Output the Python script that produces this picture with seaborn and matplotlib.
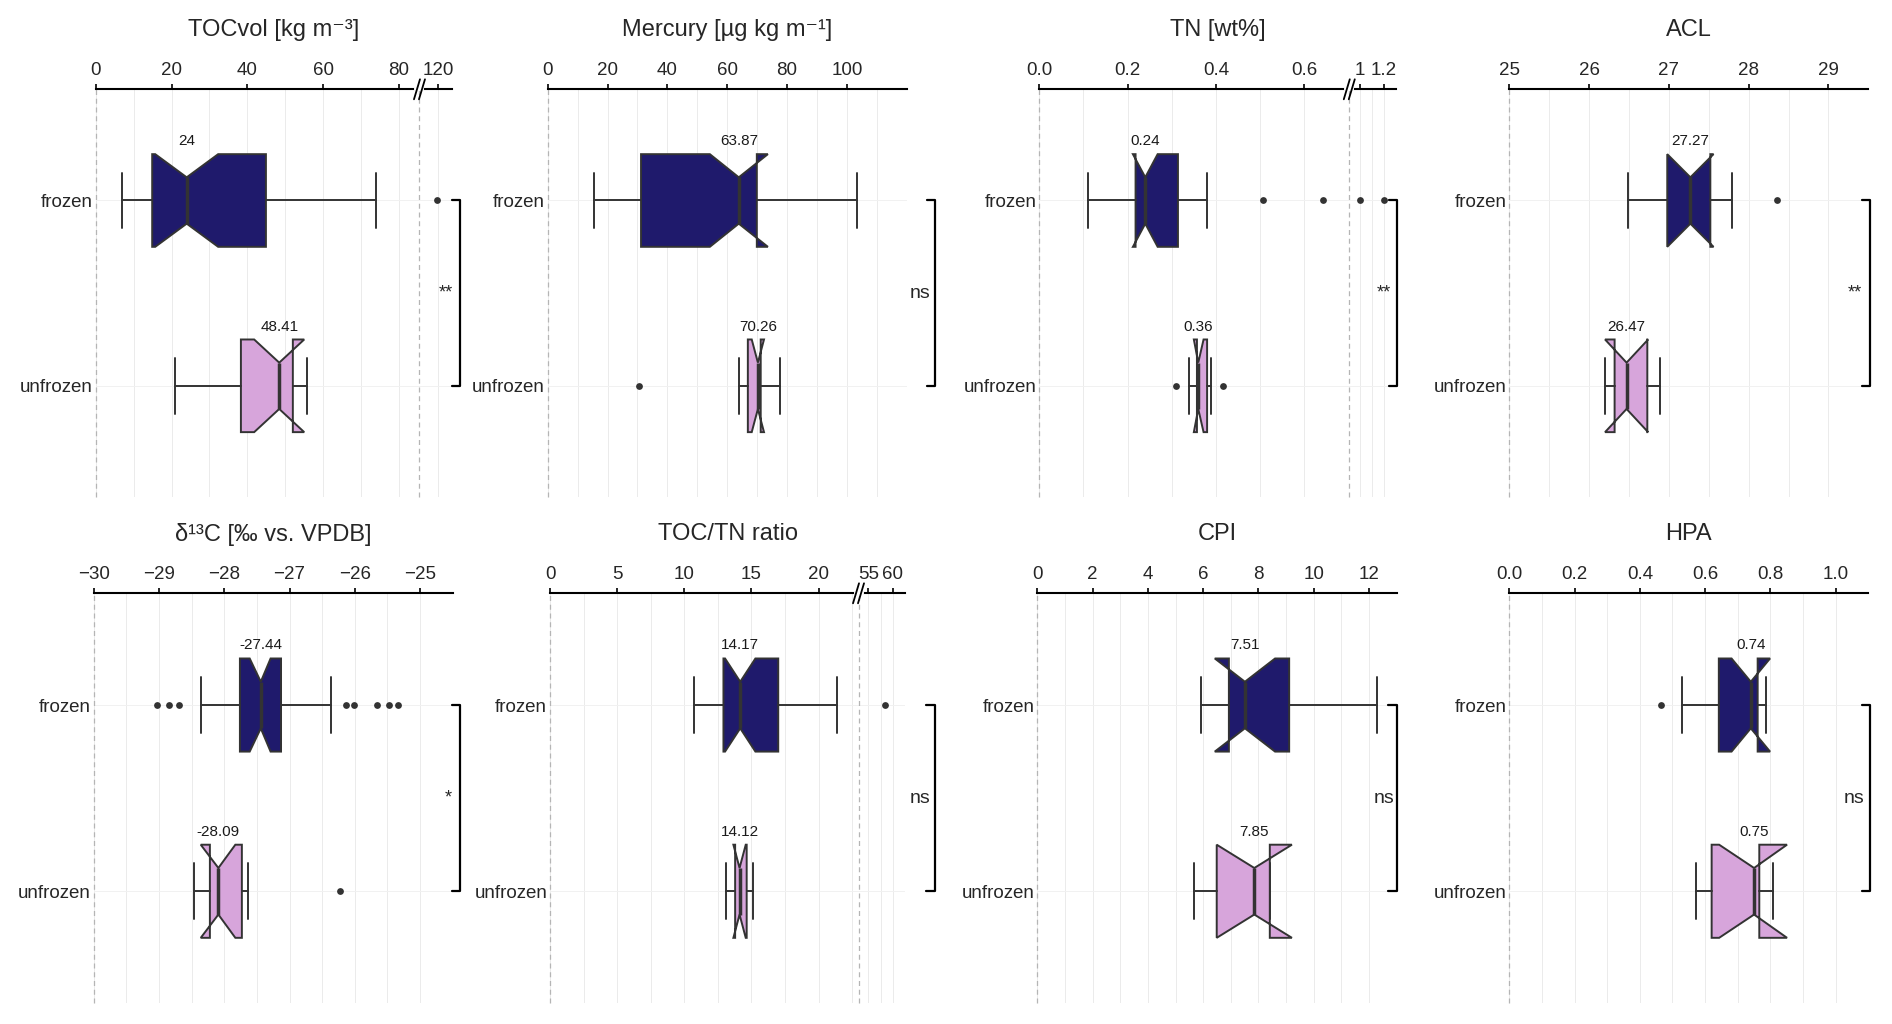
import numpy as np
import pandas as pd
import seaborn as sns
import matplotlib.pyplot as plt
import matplotlib.transforms as mtransforms

# groups (y axis)
groups = ["frozen", "unfrozen"]

# box stats: [whisker low, q1, notch low, median, notch high, q3, whisker high]
tocvol_frozen = [6.9, 14.9, 15.7, 24.0, 32.3, 44.9, 73.9]
tocvol_unfrozen = [20.9, 38.3, 41.8, 48.41, 55.0, 52.0, 55.8]
tocvol_out_frozen = [119.5]
tocvol_out_unfrozen = []

mercury_frozen = [15.5, 31.2, 54.2, 63.87, 73.6, 69.9, 103.3]
mercury_unfrozen = [63.9, 66.9, 68.2, 70.26, 72.3, 71.2, 77.6]
mercury_out_frozen = []
mercury_out_unfrozen = [30.5]

tn_frozen = [0.110, 0.218, 0.212, 0.24, 0.268, 0.314, 0.380]
tn_unfrozen = [0.338, 0.357, 0.350, 0.36, 0.372, 0.380, 0.388]
tn_out_frozen = [0.507, 0.643, 1.0, 1.2]
tn_out_unfrozen = [0.310, 0.417]

acl_frozen = [26.49, 26.98, 26.98, 27.27, 27.56, 27.52, 27.79]
acl_unfrozen = [26.20, 26.32, 26.20, 26.47, 26.74, 26.73, 26.89]
acl_out_frozen = [28.36]
acl_out_unfrozen = []

d13c_frozen = [-28.36, -27.76, -27.61, -27.44, -27.29, -27.13, -26.37]
d13c_unfrozen = [-28.47, -28.22, -28.36, -28.09, -27.83, -27.73, -27.63]
d13c_out_frozen = [-29.03, -28.85, -28.69, -26.14, -26.01, -25.66, -25.48, -25.34]
d13c_out_unfrozen = [-26.22]

toctn_frozen = [10.73, 12.92, 13.04, 14.17, 15.30, 17.0, 21.4]
toctn_unfrozen = [13.09, 13.79, 13.66, 14.12, 14.58, 14.65, 15.15]
toctn_out_frozen = [58.4]
toctn_out_unfrozen = []

cpi_frozen = [5.905, 6.93, 6.42, 7.51, 8.60, 9.11, 12.30]
cpi_unfrozen = [5.66, 6.49, 6.49, 7.85, 9.21, 8.41, 8.41]
cpi_out_frozen = []
cpi_out_unfrozen = []

hpa_frozen = [0.530, 0.642, 0.681, 0.74, 0.799, 0.761, 0.788]
hpa_unfrozen = [0.573, 0.620, 0.643, 0.75, 0.851, 0.766, 0.809]
hpa_out_frozen = [0.466]
hpa_out_unfrozen = []

titles = ["TOCvol [kg m\u207b\u00b3]", "Mercury [\u00b5g kg m\u207b\u00b9]", "TN [wt%]", "ACL",
          "\u03b4\u00b9\u00b3C [\u2030 vs. VPDB]", "TOC/TN ratio", "CPI", "HPA"]
signif = ["**", "ns", "**", "**", "*", "ns", "ns", "ns"]

# x ticks / labels
tocvol_ticks = [0, 20, 40, 60, 80, 120]
mercury_ticks = [0, 20, 40, 60, 80, 100]
tn_ticks = [0, 0.2, 0.4, 0.6, 1, 1.2]
tn_labels = ["0.0", "0.2", "0.4", "0.6", "1", "1.2"]
acl_ticks = [25, 26, 27, 28, 29]
d13c_ticks = [-30, -29, -28, -27, -26, -25]
toctn_ticks = [0, 5, 10, 15, 20, 55, 60]
cpi_ticks = [0, 2, 4, 6, 8, 10, 12]
hpa_ticks = [0, 0.2, 0.4, 0.6, 0.8, 1.0]
hpa_labels = ["0.0", "0.2", "0.4", "0.6", "0.8", "1.0"]

FROZEN = "#1f1a6c"
UNFROZEN = "#d7a5db"
EDGE = "#333333"
W, H = 1892, 1024

sns.set_theme(style="white")
plt.rcParams["font.family"] = ["Liberation Sans", "DejaVu Sans"]


def lab(t):
    return f"{t:g}".replace("-", "\u2212")


panels = [
    dict(stats=(tocvol_frozen, tocvol_unfrozen), outs=(tocvol_out_frozen, tocvol_out_unfrozen),
         ticks=tocvol_ticks, labels=[lab(t) for t in tocvol_ticks], minor=[10, 30, 50, 70],
         xlim=(0, 127), brk=(85.4, 110, 0.5), rect=(95.7, 89.3, 451.7, 497),
         br=(0.983, 1.0, 1.023)),
    dict(stats=(mercury_frozen, mercury_unfrozen), outs=(mercury_out_frozen, mercury_out_unfrozen),
         ticks=mercury_ticks, labels=[lab(t) for t in mercury_ticks], minor=list(range(10, 120, 20)) + [120],
         xlim=(0, 120), brk=None, rect=(547.7, 89.3, 906.7, 497), br=(1.037, 1.056, 1.079)),
    dict(stats=(tn_frozen, tn_unfrozen), outs=(tn_out_frozen, tn_out_unfrozen),
         ticks=tn_ticks, labels=tn_labels, minor=[0.1, 0.3, 0.5, 1.1, 1.3],
         xlim=(0, 1.3), brk=(0.702, 0.911, 0.272), rect=(1039.3, 89.3, 1396, 497),
         br=(0.967, 0.979, 1.004)),
    dict(stats=(acl_frozen, acl_unfrozen), outs=(acl_out_frozen, acl_out_unfrozen),
         ticks=acl_ticks, labels=[lab(t) for t in acl_ticks], minor=[25.5, 26.5, 27.5, 28.5, 29.5],
         xlim=(25, 29.5), brk=None, rect=(1509.3, 89.3, 1868.3, 497), br=(0.963, 0.982, 1.005)),
    dict(stats=(d13c_frozen, d13c_unfrozen), outs=(d13c_out_frozen, d13c_out_unfrozen),
         ticks=d13c_ticks, labels=[lab(t) for t in d13c_ticks],
         minor=[-29.5, -28.5, -27.5, -26.5, -25.5, -24.5],
         xlim=(-30, -24.5), brk=None, rect=(93.7, 593.3, 452.7, 1003), br=(0.988, 0.997, 1.02)),
    dict(stats=(toctn_frozen, toctn_unfrozen), outs=(toctn_out_frozen, toctn_out_unfrozen),
         ticks=toctn_ticks, labels=[lab(t) for t in toctn_ticks],
         minor=[2.5, 7.5, 12.5, 17.5, 22.5, 57.5, 62.5],
         xlim=(0, 62.5), brk=(22.98, 52.96, 0.363), rect=(550, 593.3, 905, 1003),
         br=(1.042, 1.06, 1.085)),
    dict(stats=(cpi_frozen, cpi_unfrozen), outs=(cpi_out_frozen, cpi_out_unfrozen),
         ticks=cpi_ticks, labels=[lab(t) for t in cpi_ticks], minor=[1, 3, 5, 7, 9, 11, 13],
         xlim=(0, 13), brk=None, rect=(1037.3, 593.3, 1396.7, 1003), br=(0.965, 0.977, 1.0)),
    dict(stats=(hpa_frozen, hpa_unfrozen), outs=(hpa_out_frozen, hpa_out_unfrozen),
         ticks=hpa_ticks, labels=hpa_labels, minor=[0.1, 0.3, 0.5, 0.7, 0.9, 1.1],
         xlim=(0, 1.1), brk=None, rect=(1509.3, 593.3, 1868.3, 1003), br=(0.961, 0.982, 1.005)),
]

fig = plt.figure(figsize=(W / 100, H / 100), dpi=100)

for p, title, sig in zip(panels, titles, signif):
    l, t, r, b = p["rect"]
    wpx, hpx = r - l, b - t
    ax = fig.add_axes([l / W, 1 - b / H, wpx / W, hpx / H])

    # broken axis as a piecewise linear scale
    if p["brk"] is not None:
        b0, b1, k = p["brk"]

        def fwd(x, b0=b0, b1=b1, k=k):
            x = np.asarray(x, dtype=float)
            return np.where(x <= b0, x, np.where(x < b1, b0, b0 + (x - b1) * k))

        def inv(y, b0=b0, b1=b1, k=k):
            y = np.asarray(y, dtype=float)
            return np.where(y <= b0, y, b1 + (y - b0) / k)

        ax.set_xscale("function", functions=(fwd, inv))

    stats = []
    for v in p["stats"]:
        stats.append(dict(whislo=v[0], q1=v[1], cilo=v[2], med=v[3], cihi=v[4],
                          q3=v[5], whishi=v[6], fliers=[]))
    kw = dict(positions=[0, 1], widths=0.5, shownotches=True, patch_artist=True,
              showfliers=False, capwidths=0.3, manage_ticks=False,
              boxprops=dict(edgecolor=EDGE, linewidth=1.4),
              medianprops=dict(color=EDGE, linewidth=2.5),
              whiskerprops=dict(color=EDGE, linewidth=1.4),
              capprops=dict(color=EDGE, linewidth=1.4))
    try:
        bp = ax.bxp(stats, orientation="horizontal", **kw)
    except TypeError:
        bp = ax.bxp(stats, vert=False, **kw)
    for patch, c in zip(bp["boxes"], [FROZEN, UNFROZEN]):
        patch.set_facecolor(c)
        patch.set_zorder(3)
    for ln in bp["medians"] + bp["whiskers"] + bp["caps"]:
        ln.set_zorder(3.5)

    # outliers
    ox, oy = [], []
    for i, o in enumerate(p["outs"]):
        ox += list(o)
        oy += [i] * len(o)
    if ox:
        sns.scatterplot(x=ox, y=oy, ax=ax, color=EDGE, s=24, linewidth=0,
                        legend=False, zorder=4)

    # median labels
    for i, v in enumerate(p["stats"]):
        ax.text(v[3], i - 0.32, f"{round(v[3], 2):g}", ha="center", va="center",
                fontsize=11, color="#1a1a1a", zorder=5)

    ax.set_xlim(*p["xlim"])
    ax.set_ylim(1.6, -0.6)
    ax.set_xlabel("")
    ax.set_ylabel("")
    ax.set_xticks(p["ticks"])
    ax.set_xticklabels(p["labels"])
    ax.set_xticks(p["minor"], minor=True)
    ax.set_yticks([0, 1])
    ax.set_yticklabels(groups, fontsize=13.5)

    ax.xaxis.tick_top()
    ax.tick_params(axis="x", which="major", top=True, bottom=False, labeltop=True,
                   labelbottom=False, direction="out", length=3.5, width=1.2,
                   color="black", labelsize=13.5, pad=4)
    ax.tick_params(axis="x", which="minor", length=0)
    ax.tick_params(axis="y", length=0, pad=2)
    ax.set_axisbelow(True)
    ax.grid(True, axis="x", which="both", color="#ebebeb", linewidth=0.7)
    ax.grid(True, axis="y", which="major", color="#f1f1f1", linewidth=0.7)
    for s in ["left", "right", "bottom"]:
        ax.spines[s].set_visible(False)
    ax.spines["top"].set_color("black")
    ax.spines["top"].set_linewidth(1.5)

    # dashed guide lines
    dash = dict(color="#b5b5b5", ls=(0, (4, 3)), lw=0.9, zorder=1, clip_on=False)
    ax.axvline(p["xlim"][0], **dash)
    if p["brk"] is not None:
        b0 = p["brk"][0]
        ax.axvline(b0, **dash)
        f0, f1 = fwd(p["xlim"][0]), fwd(p["xlim"][1])
        fx = float((fwd(b0) - f0) / (f1 - f0))
        ax.plot([fx - 3 / wpx, fx + 3 / wpx], [1, 1], color="white", lw=3,
                transform=ax.transAxes, clip_on=False, zorder=6)
        for off in (-2.5, 2.5):
            ax.plot([fx + (off - 3) / wpx, fx + (off + 3) / wpx], [1 - 10 / hpx, 1 + 10 / hpx],
                    color="black", lw=1.3, transform=ax.transAxes, clip_on=False, zorder=7)

    # title
    ax.annotate(title, xy=(0.5, 1), xycoords="axes fraction", xytext=(0, 59 * 0.72),
                textcoords="offset points", ha="center", va="center", fontsize=17)

    # significance bracket
    tx, x0, x1 = p["br"]
    tr = mtransforms.blended_transform_factory(ax.transAxes, ax.transData)
    ax.plot([x0, x1, x1, x0], [0, 0, 1, 1], color="black", lw=1.6, transform=tr,
            clip_on=False, zorder=6)
    ax.text(tx, 0.5, sig, ha="center", va="center", fontsize=14 if sig == "ns" else 13,
            transform=tr, clip_on=False)

fig.savefig("out.png", dpi=100)
